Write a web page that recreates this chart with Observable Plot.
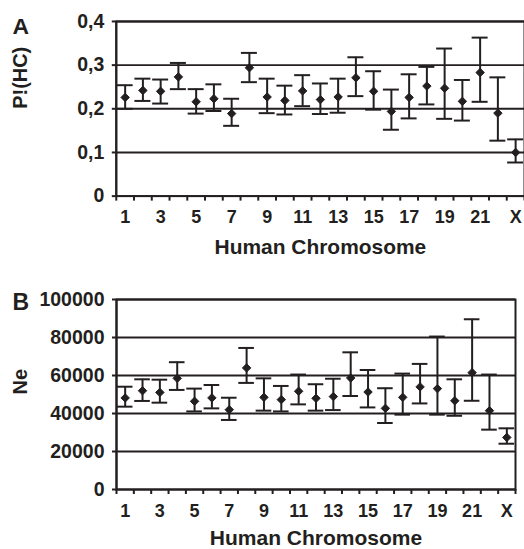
<!DOCTYPE html>
<html><head><meta charset="utf-8">
<script src="https://cdn.jsdelivr.net/npm/d3@7"></script>
<script src="https://cdn.jsdelivr.net/npm/@observablehq/plot@0.6"></script>
<style>
html,body{margin:0;padding:0;background:#fff;overflow:hidden;width:524px;height:549px}
#a,#b{position:absolute;left:0}
#a{top:0}
#b{top:270px}
</style></head><body><div id="a"></div><div id="b"></div>
<script>
const chromosomes = ["1","2","3","4","5","6","7","8","9","10","11","12","13","14","15","16","17","18","19","20","21","22","X"];
const tickLabels = ["1","3","5","7","9","11","13","15","17","19","21","X"];
const phcMean = [0.226,0.242,0.240,0.273,0.216,0.223,0.189,0.294,0.227,0.219,0.241,0.221,0.227,0.271,0.240,0.194,0.226,0.252,0.247,0.217,0.283,0.190,0.100];
const phcLow  = [0.200,0.218,0.212,0.245,0.189,0.195,0.161,0.261,0.190,0.187,0.206,0.188,0.191,0.229,0.198,0.152,0.178,0.210,0.177,0.173,0.216,0.127,0.077];
const phcHigh = [0.254,0.269,0.267,0.305,0.245,0.256,0.223,0.328,0.269,0.253,0.277,0.258,0.269,0.318,0.286,0.244,0.279,0.296,0.338,0.266,0.363,0.272,0.130];
const neMean = [48200,52000,51100,58500,46400,48200,42000,64000,48500,47300,51700,48000,48900,58700,51300,42700,48500,54000,53100,46700,61500,41500,27400];
const neLow  = [43600,46600,45700,52400,41100,42700,36600,56100,41500,41100,44800,41500,41800,49200,43200,35000,39400,45300,39400,38800,46700,31500,24100];
const neHigh = [54100,58000,57800,67000,53100,55000,48300,74500,58500,54500,60500,55400,58300,72200,62900,53300,61000,66100,80500,58000,89600,60500,32200];
const phcTicks = [0, 0.1, 0.2, 0.3, 0.4];
const neTicks = [0, 20000, 40000, 60000, 80000, 100000];

const ink = "#231f20";
const font = "'Liberation Sans', Arial, Helvetica, sans-serif";

function panel({letter, yTitle, mean, low, high, yDomain, yTicks, yFormat, width, height, marginTop, marginBottom, marginRight, labelPad, letterDy, titleDy}) {
  const rows = chromosomes.map((c, i) => ({c, xi: i + 0.5, m: mean[i], lo: low[i], hi: high[i]}));
  const tickPos = tickLabels.map(t => chromosomes.indexOf(t) + 0.5);
  const n = chromosomes.length;
  return Plot.plot({
    width, height, marginLeft: 116, marginRight, marginTop, marginBottom,
    style: {fontFamily: font, fontWeight: "bold", color: ink, background: "white"},
    x: {domain: [0, n], axis: null},
    y: {domain: yDomain, axis: null},
    marks: [
      Plot.ruleY(yTicks, {stroke: ink, strokeWidth: 2}),
      Plot.frame({stroke: ink, strokeWidth: 2}),
      Plot.ruleX([0], {stroke: ink, strokeWidth: 2}),
      Plot.axisX(d3.range(0, n + 1), {tickSize: 5, tickFormat: () => "", stroke: ink, strokeWidth: 2, label: null}),
      Plot.axisX(tickPos, {tickSize: 0, tickPadding: labelPad, tickFormat: d => chromosomes[Math.floor(d)], fontSize: 18, fill: ink, label: null}),
      Plot.axisY(yTicks, {tickSize: 4, tickPadding: 8, tickFormat: yFormat, fontSize: 19.5, fill: ink, stroke: ink, strokeWidth: 2, label: null}),
      Plot.ruleX(rows, {x: "xi", y1: "lo", y2: "hi", stroke: ink, strokeWidth: 2}),
      Plot.ruleY(rows, {y: "lo", x1: d => d.xi - 0.45, x2: d => d.xi + 0.45, stroke: ink, strokeWidth: 2}),
      Plot.ruleY(rows, {y: "hi", x1: d => d.xi - 0.45, x2: d => d.xi + 0.45, stroke: ink, strokeWidth: 2}),
      Plot.dot(rows, {x: "xi", y: "m", symbol: "diamond2", r: 3.8, fill: ink, stroke: ink, strokeWidth: 1}),
      Plot.text(["Human Chromosome"], {frameAnchor: "bottom", dy: titleDy, lineAnchor: "top", fontSize: 21, fontWeight: "bold", fill: ink}),
      Plot.text([yTitle], {frameAnchor: "left", dx: -96, rotate: -90, lineAnchor: "middle", fontSize: 20, fontWeight: "bold", fill: ink}),
      Plot.text([letter], {frameAnchor: "top-left", dx: -104, dy: letterDy, textAnchor: "start", lineAnchor: "top", fontSize: 23, fontWeight: "bold", fill: ink})
    ]
  });
}

const fmtA = d => d === 0 ? "0" : d.toFixed(1).replace(".", ",");
document.getElementById("a").append(panel({
  letter: "A", yTitle: "P!(HC)", mean: phcMean, low: phcLow, high: phcHigh,
  yDomain: [0, 0.4], yTicks: phcTicks, yFormat: fmtA,
  width: 525, height: 262, marginTop: 21, marginBottom: 66, marginRight: 0, labelPad: 14, letterDy: -4, titleDy: 43
}));
document.getElementById("b").append(panel({
  letter: "B", yTitle: "Ne", mean: neMean, low: neLow, high: neHigh,
  yDomain: [0, 100000], yTicks: neTicks, yFormat: d3.format("d"),
  width: 524, height: 279, marginTop: 29, marginBottom: 60, marginRight: 9, labelPad: 15, letterDy: -6, titleDy: 41
}));
</script></body></html>
